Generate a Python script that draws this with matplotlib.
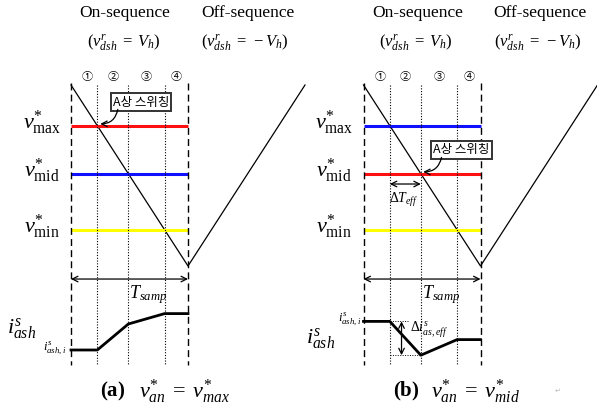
import numpy as np
import matplotlib.pyplot as plt

plt.rcParams['mathtext.fontset'] = 'custom'
plt.rcParams['mathtext.rm'] = 'Liberation Serif'
plt.rcParams['mathtext.it'] = 'Liberation Serif:italic'
plt.rcParams['mathtext.bf'] = 'Liberation Serif:bold'

# carrier (one sampling period down, one up), normalised
carrier_t = [0.0, 1.0, 2.0]
carrier_v = [1.0, -1.0, 1.0]

# voltage references (same carrier units)
v_max = 0.55
v_mid = 0.02
v_min = -0.60

# panel a: phase A is v_max, panel b: phase A is v_mid
panel_shift = [0.0, 2.5]
level_colors = [['#ff1010', '#1010ff', '#ffff00'],
                ['#1010ff', '#ff1010', '#ffff00']]

# phase current samples at 0, t1, t2, t3, Tsamp
i_a = [0.0, 0.0, 1.0, 1.4, 1.4]
i_b = [1.1, 1.1, -0.2, 0.4, 0.4]
currents = [i_a, i_b]

circled = ['①', '②', '③', '④']
captions = [r'$v^{*}_{an}\;=\;v^{*}_{max}$', r'$v^{*}_{an}\;=\;v^{*}_{mid}$']
panel_tags = [r'$\mathbf{(a)}$', r'$\mathbf{(b)}$']

# switching instants = where the falling carrier meets each reference
levels = [v_max, v_mid, v_min]
t_sw = [(1 - v) / 2 for v in levels]
t_pts = [0.0] + t_sw + [1.0]

fig = plt.figure(figsize=(5.97, 4.11), dpi=100)
ax = fig.add_axes([0, 0, 1, 1])
ax.set_xlim(-71 / 117, (597 - 71) / 117)
ax.set_ylim((175.5 - 411) / 90.5, 175.5 / 90.5)
ax.axis('off')

axi = fig.add_axes([0, 0, 1, 1])
axi.set_xlim(ax.get_xlim())
axi.set_ylim(-61 / 26, 350 / 26)
axi.axis('off')
axi.patch.set_alpha(0)

serif = 'Liberation Serif'
kr = ['Noto Sans CJK KR', 'DejaVu Sans']

for k, s in enumerate(panel_shift):
    # carrier
    ax.plot([t + s for t in carrier_t], carrier_v, color='black', lw=0.9)

    # references
    for v, c in zip(levels, level_colors[k]):
        ax.plot([s, s + 1], [v, v], color=c, lw=2.2, solid_capstyle='butt')

    # period borders and switching instants
    for t in [0.0, 1.0]:
        ax.plot([s + t, s + t], [1.02, -2.094], color='black', lw=1.0,
                dashes=(5, 3))
    for t in t_sw:
        ax.plot([s + t, s + t], [1.0, -2.094], color='black', lw=0.8,
                dashes=(1, 1.5))

    # interval numbers
    for j in range(4):
        ax.text(s + (t_pts[j] + t_pts[j + 1]) / 2 + (0.03 if j == 0 else 0),
                1.088, circled[j], family=kr, fontsize=8, ha='center',
                va='center')

    # level labels
    for v, name in zip(levels, ['max', 'mid', 'min']):
        ax.text(s - 0.25, v + 0.03, r'$v^{*}_{\mathrm{%s}}$' % name,
                fontsize=16, ha='center', va='center')

    # sampling period
    ax.annotate('', xy=(s, -1.144), xytext=(s + 1, -1.144),
                arrowprops=dict(arrowstyle='<->', lw=0.9, color='black',
                                shrinkA=0, shrinkB=0))
    ax.text(s + 0.66, -1.32, r'$T_{samp}$', fontsize=13, ha='center',
            va='center')

    # headings
    ax.text(s + 0.46, 1.796, 'On-sequence', family=serif, fontsize=12.5,
            ha='center', va='center')
    ax.text(s + 1.51, 1.796, 'Off-sequence', family=serif, fontsize=12.5,
            ha='center', va='center')
    ax.text(s + 0.45, 1.464, r'$(v^{r}_{dsh}\;=\;V_{h})$', fontsize=12,
            ha='center', va='center')
    ax.text(s + 1.49, 1.464, r'$(v^{r}_{dsh}\;=\;-V_{h})$', fontsize=12,
            ha='center', va='center')

    # current
    axi.plot([t + s for t in t_pts], currents[k], color='black', lw=2.0)

    # caption
    ax.text(s + 0.25, -2.392, panel_tags[k], fontsize=15, ha='left',
            va='center')
    ax.text(s + 0.58, -2.392, captions[k], fontsize=16, ha='left',
            va='center')

# panel a annotations
ax.text(0.598, 0.812, 'A상 스위칭', family=kr, fontsize=9, ha='center',
        va='center', bbox=dict(boxstyle='square,pad=0.18', fc='white',
                               ec='#333333', lw=1.4))
ax.annotate('', xy=(t_sw[0] + 0.025, v_max + 0.02), xytext=(0.40, 0.73),
            arrowprops=dict(arrowstyle='->', lw=0.9, color='black',
                            connectionstyle='arc3,rad=-0.4',
                            shrinkA=0, shrinkB=0))
axi.text(-0.42, 0.80, r'$i^{s}_{ash}$', fontsize=16, ha='center', va='center')
axi.text(-0.14, 0.08, r'$i^{s}_{ash,i}$', fontsize=9, ha='center', va='center')

# panel b annotations
s = panel_shift[1]
ax.text(s + 0.838, 0.282, 'A상 스위칭', family=kr, fontsize=9,
        ha='center', va='center',
        bbox=dict(boxstyle='square,pad=0.18', fc='white', ec='#333333',
                  lw=1.4))
ax.annotate('', xy=(s + t_sw[1] + 0.02, v_mid + 0.02),
            xytext=(s + 0.667, 0.20),
            arrowprops=dict(arrowstyle='->', lw=0.9, color='black',
                            connectionstyle='arc3,rad=-0.4',
                            shrinkA=0, shrinkB=0))
ax.annotate('', xy=(s + t_sw[0], -0.094), xytext=(s + t_sw[1], -0.094),
            arrowprops=dict(arrowstyle='<->', lw=0.9, color='black',
                            shrinkA=0, shrinkB=0))
ax.text(s + 0.34, -0.27, r'$\Delta T_{eff}$', fontsize=10, ha='center',
        va='center')

axi.plot([s + t_sw[0], s + 0.38], [i_b[1], i_b[1]], color='black', lw=0.7,
         dashes=(1, 1.5))
axi.plot([s + t_sw[0], s + t_sw[1]], [i_b[2], i_b[2]], color='black',
         lw=0.7, dashes=(1, 1.5))
axi.annotate('', xy=(s + 0.325, i_b[1]), xytext=(s + 0.325, i_b[2]),
             arrowprops=dict(arrowstyle='<->', lw=0.9, color='black',
                             shrinkA=0, shrinkB=0))
axi.text(s + 0.56, 0.77, r'$\Delta i^{s}_{as,eff}$', fontsize=10,
         ha='center', va='center')
axi.text(s - 0.37, 0.42, r'$i^{s}_{ash}$', fontsize=16, ha='center',
         va='center')
axi.text(s - 0.12, 1.2, r'$i^{s}_{ash,i}$', fontsize=9, ha='center',
         va='center')
ax.text(s + 1.66, -2.38, '↵', family='DejaVu Sans', fontsize=5,
        color='#bbbbbb', ha='center', va='center')

fig.savefig('out.png', dpi=100)
